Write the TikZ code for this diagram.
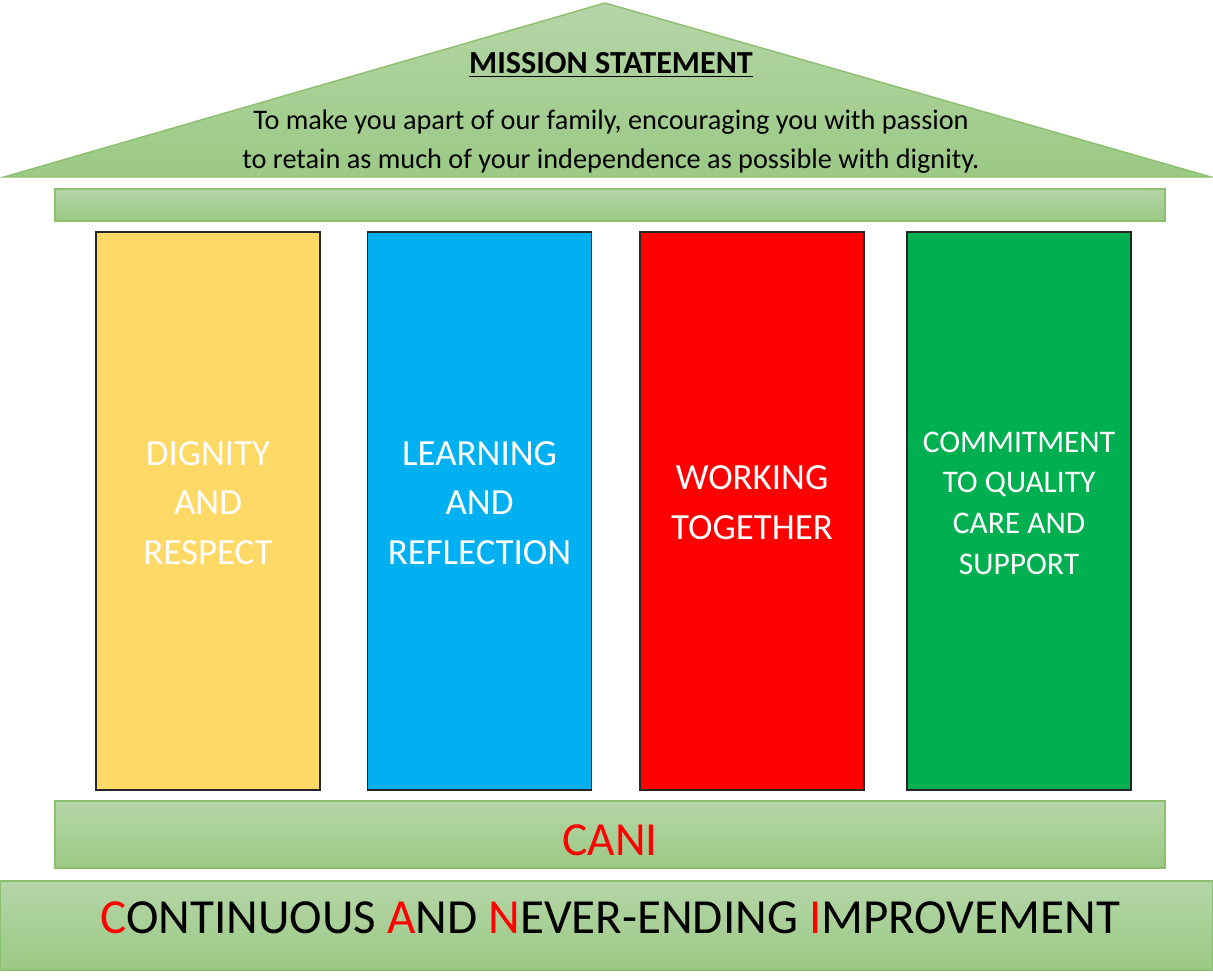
\documentclass[tikz,border=0pt]{standalone}
\usepackage{fontspec}
\setmainfont{Carlito}
\usepackage{tikz}
\usetikzlibrary{positioning,calc}

\definecolor{roofgreen}{HTML}{B5D6A7}
\definecolor{roofgreendark}{HTML}{9BC985}
\definecolor{roofline}{HTML}{8CBF6E}
\definecolor{dignityyellow}{HTML}{FFD966}
\definecolor{learningblue}{HTML}{00B0F0}
\definecolor{workingred}{HTML}{FF0000}
\definecolor{commitgreen}{HTML}{00B050}
\definecolor{pillarline}{HTML}{262626}

\begin{document}
\begin{tikzpicture}[x=0.02cm,y=-0.02cm,
	greenpart/.style={draw=roofline, line width=0.8pt, top color=roofgreen, bottom color=roofgreendark},
	pillar/.style={draw=pillarline, line width=1pt, minimum width=4.48cm, minimum height=11.16cm, inner sep=0pt},
	pillartext/.style={text=white, align=center, font=\fontsize{21}{28.4}\selectfont},
	bartext/.style={align=center, inner sep=0pt}]
			\useasboundingbox (0,0) rectangle (1213,979);
			
			% roof and beam
			\draw[greenpart] (4,177) -- (605,3) -- (1211,177) -- cycle;
			\node[font=\fontsize{18.3}{20}\selectfont\bfseries] (title) at (611,65) {\underline{MISSION STATEMENT}};
			\node[bartext, font=\fontsize{16.1}{22.2}\selectfont] (mission) at (611,142) {To make you apart of our family, encouraging you with passion\\to retain as much of your independence as possible with dignity.};
			\draw[greenpart] (55,189) rectangle (1165,221);
			
			% pillars
			\node[pillar, fill=dignityyellow] (dignity) at (208,511) {};
			\node[pillar, fill=learningblue] (learning) at (479.5,511) {};
			\node[pillar, fill=workingred] (working) at (752,511) {};
			\node[pillar, fill=commitgreen] (commit) at (1019,511) {};
			
			\node[pillartext] (dignitytext) at ([yshift=4.5pt]dignity.center) {DIGNITY\\AND\\RESPECT};
			\node[pillartext] (learningtext) at ([yshift=4.5pt]learning.center) {LEARNING\\AND\\REFLECTION};
			\node[pillartext] (workingtext) at ([yshift=4.5pt]working.center) {WORKING\\TOGETHER};
			\node[pillartext, font=\fontsize{17.9}{23.2}\selectfont] (committext) at ([yshift=4.5pt]commit.center) {COMMITMENT\\TO QUALITY\\CARE AND\\SUPPORT};
			
			% base
			\draw[greenpart] (55,801) rectangle (1165,868);
			\node[bartext, text=workingred, font=\fontsize{27}{30}\selectfont] (cani) at (610,840) {CANI};
			\draw[greenpart] (0,881) rectangle (1213,970);
			\node[bartext, font=\fontsize{27.9}{30}\selectfont] (improve) at (610,918) {\textcolor{workingred}{C}ONTINUOUS \textcolor{workingred}{A}ND \textcolor{workingred}{N}EVER-ENDING \textcolor{workingred}{I}MPROVEMENT};
			\end{tikzpicture}
\end{document}
